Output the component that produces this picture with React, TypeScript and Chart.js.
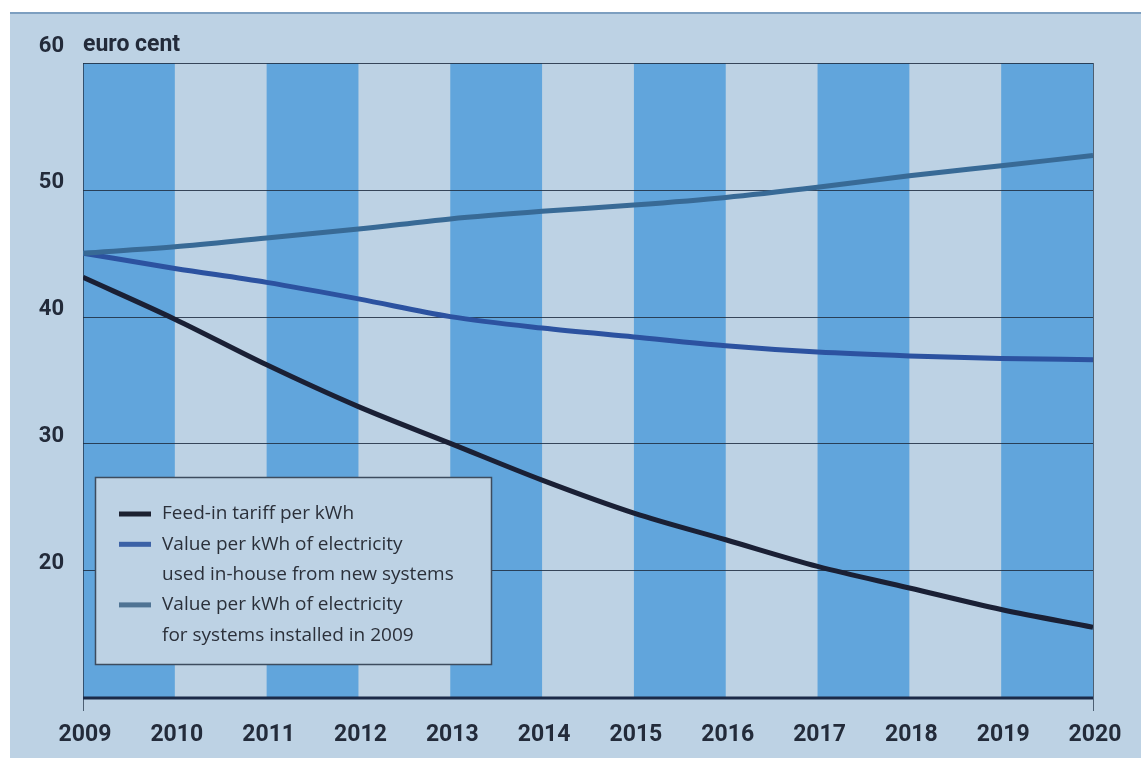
import { useEffect, useRef } from 'react';
import { Chart, registerables } from 'chart.js';

Chart.register(...registerables);

const years = [2009, 2010, 2011, 2012, 2013, 2014, 2015, 2016, 2017, 2018, 2019, 2020];
const feedIn = [43.1, 39.8, 36.2, 32.9, 30.0, 27.1, 24.5, 22.4, 20.3, 18.6, 16.9, 15.5];
const inHouseNew = [45.0, 43.8, 42.7, 41.4, 40.0, 39.1, 38.4, 37.7, 37.2, 36.9, 36.7, 36.6];
const installed2009 = [45.0, 45.5, 46.2, 46.9, 47.7, 48.3, 48.8, 49.4, 50.2, 51.1, 51.9, 52.7];
const yTicks = [20, 30, 40, 50, 60];
const xTickLabels = years.map(String);
const yUnit = 'euro cent';
const seriesLabels = [
  ['Feed-in tariff per kWh'],
  ['Value per kWh of electricity', 'used in-house from new systems'],
  ['Value per kWh of electricity', 'for systems installed in 2009'],
];

const LINE_COLORS = ['#1a2035', '#2c52a0', '#386a96'];
const SWATCH_COLORS = ['#1c2130', '#3c62a6', '#4f7393'];
const BG = '#bdd2e4';
const BAND = '#61a5dc';
const INK = '#232b3a';

const decor = {
  id: 'decor',
  beforeDatasetsDraw(chart: any) {
    const { ctx, chartArea, scales } = chart;
    const { left, right, top, bottom } = chartArea;
    const x = scales.x;
    const y = scales.y;
    ctx.save();
    // bands
    ctx.fillStyle = BAND;
    for (let i = 0; i < years.length - 1; i += 2) {
      const x0 = x.getPixelForValue(years[i]);
      const x1 = x.getPixelForValue(years[i + 1]);
      ctx.fillRect(x0, top, x1 - x0, bottom - top);
    }
    // grid lines
    ctx.strokeStyle = 'rgba(30,45,65,0.85)';
    ctx.lineWidth = 1;
    for (const v of yTicks) {
      const py = Math.round(y.getPixelForValue(v)) + 0.5;
      ctx.beginPath();
      ctx.moveTo(left, py);
      ctx.lineTo(right, py);
      ctx.stroke();
    }
    // left/right borders
    ctx.beginPath();
    ctx.moveTo(Math.round(left) + 0.5, top);
    ctx.lineTo(Math.round(left) + 0.5, bottom + 14);
    ctx.moveTo(Math.round(right) + 0.5, top);
    ctx.lineTo(Math.round(right) + 0.5, bottom + 14);
    ctx.strokeStyle = 'rgba(30,45,65,0.7)';
    ctx.stroke();
    // bottom axis
    ctx.strokeStyle = '#1b2a48';
    ctx.lineWidth = 3;
    ctx.beginPath();
    ctx.moveTo(left, bottom + 1);
    ctx.lineTo(right, bottom + 1);
    ctx.stroke();
    ctx.restore();
  },
  afterDraw(chart: any) {
    const { ctx, chartArea, scales } = chart;
    const { left } = chartArea;
    const x = scales.x;
    const y = scales.y;
    ctx.save();
    ctx.fillStyle = INK;
    // y tick labels
    ctx.font = 'bold 22px Roboto';
    ctx.textAlign = 'right';
    ctx.textBaseline = 'middle';
    for (const v of yTicks) {
      const off = v === 60 ? -17 : -7;
      ctx.fillText(String(v), left - 19, y.getPixelForValue(v) + off);
    }
    // unit
    ctx.font = 'bold 23px Roboto';
    ctx.textAlign = 'left';
    ctx.fillText(yUnit, left, y.getPixelForValue(60) - 18);
    // x tick labels
    ctx.font = 'bold 23px Roboto';
    ctx.textAlign = 'center';
    xTickLabels.forEach((t, i) => {
      ctx.fillText(t, x.getPixelForValue(years[i]) + 2, chartArea.bottom + 38);
    });
    // legend box
    const bx = 85, by = 463, bw = 396, bh = 187;
    ctx.fillStyle = BG;
    ctx.fillRect(bx, by, bw, bh);
    ctx.strokeStyle = '#3d4c5e';
    ctx.lineWidth = 1.5;
    ctx.strokeRect(bx + 0.5, by + 0.5, bw, bh);
    let row = 0;
    const rowH = 30.3;
    const firstY = by + 37;
    ctx.font = '19px "Open Sans"';
    ctx.textAlign = 'left';
    ctx.textBaseline = 'middle';
    seriesLabels.forEach((lines, si) => {
      const ry = firstY + row * rowH;
      ctx.fillStyle = SWATCH_COLORS[si];
      ctx.fillRect(bx + 24, ry - 2.5, 32, 5);
      ctx.fillStyle = '#2b303a';
      lines.forEach((ln, li) => {
        ctx.fillText(ln, bx + 67, firstY + (row + li) * rowH);
      });
      row += lines.length;
    });
    ctx.restore();
  },
};

export default function App() {
  const ref = useRef<HTMLCanvasElement | null>(null);
  useEffect(() => {
    if (!ref.current) return;
    const mk = (vals: number[]) => vals.map((v, i) => ({ x: years[i], y: v }));
    const chart = new Chart(ref.current, {
      type: 'line',
      data: {
        datasets: [
          { label: seriesLabels[2].join(' '), data: mk(installed2009), borderColor: LINE_COLORS[2], borderWidth: 5, pointRadius: 0, cubicInterpolationMode: 'monotone', fill: false },
          { label: seriesLabels[1].join(' '), data: mk(inHouseNew), borderColor: LINE_COLORS[1], borderWidth: 5, pointRadius: 0, cubicInterpolationMode: 'monotone', fill: false },
          { label: seriesLabels[0].join(' '), data: mk(feedIn), borderColor: LINE_COLORS[0], borderWidth: 5, pointRadius: 0, cubicInterpolationMode: 'monotone', fill: false },
        ],
      },
      options: {
        animation: false,
        responsive: false,
        maintainAspectRatio: false,
        layout: { padding: { left: 73, right: 48, top: 49, bottom: 61 } },
        scales: {
          x: { type: 'linear', min: 2009, max: 2020, display: false },
          y: { type: 'linear', min: 10, max: 60, display: false },
        },
        plugins: { legend: { display: false }, tooltip: { enabled: false } },
      },
      plugins: [decor],
    } as any);
    return () => chart.destroy();
  }, []);
  return (
    <div
      style={{
        position: 'absolute',
        left: 10,
        top: 12,
        width: 1131,
        height: 746,
        background: BG,
        borderTop: '2px solid #7d9fc0',
        boxSizing: 'border-box',
      }}
    >
      <canvas ref={ref} width={1131} height={744} style={{ display: 'block' }} />
    </div>
  );
}
